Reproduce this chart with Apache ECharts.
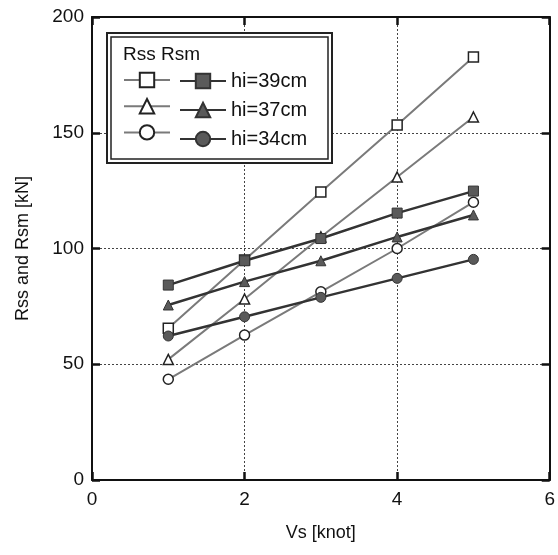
<!DOCTYPE html>
<html lang="en">
<head>
    <meta charset="UTF-8">
    <title>Rss and Rsm</title>
    <script src="https://cdn.jsdelivr.net/npm/echarts@6/dist/echarts.min.js"></script>
    <style>
        html, body { margin: 0; padding: 0; background: #fff; }
        #main { width: 558px; height: 555px; }
    </style>
</head>
<body>
<div id="main"></div>
<script>
    // 数据
    let vs = [1, 2, 3, 4, 5];
    let rss39 = [65.5, 95, 124.4, 153.3, 182.7];
    let rsm39 = [84.2, 94.7, 104.3, 115.3, 124.8];
    let rss37 = [52.1, 78.2, 105, 130.9, 156.8];
    let rsm37 = [75.6, 85.7, 94.7, 105, 114.5];
    let rss34 = [43.5, 62.6, 81.3, 100, 120];
    let rsm34 = [62.2, 70.5, 78.9, 87.1, 95.3];
    let xTicks = [0, 2, 4, 6];
    let yTicks = [0, 50, 100, 150, 200];

    let font = 'Liberation Sans, Arial, sans-serif';
    let pairs = (arr) => vs.map((x, i) => [x, arr[i]]);

    let rssLine = (name, data, symbol) => ({
        name: name, type: 'line', data: pairs(data),
        symbol: symbol, symbolSize: 10,
        lineStyle: {color: '#7a7a7a', width: 2},
        itemStyle: {color: '#fff', borderColor: '#222', borderWidth: 1.5},
        z: 3
    });
    let rsmLine = (name, data, symbol) => ({
        name: name, type: 'line', data: pairs(data),
        symbol: symbol, symbolSize: 10,
        lineStyle: {color: '#333', width: 2.5},
        itemStyle: {color: '#5a5a5a', borderColor: '#333', borderWidth: 1},
        z: 4
    });

    let labelMap = {'Rsm39': 'hi=39cm', 'Rsm37': 'hi=37cm', 'Rsm34': 'hi=34cm'};

    // 边框轴（上、右）
    let frameAxis = (pos, min, max, interval) => ({
        type: 'value', min: min, max: max, interval: interval, position: pos,
        axisLine: {show: true, onZero: false, lineStyle: {color: '#111', width: 2}},
        axisTick: {show: true, inside: true, length: 8, lineStyle: {color: '#111', width: 2.5}},
        axisLabel: {show: false}, splitLine: {show: false}
    });

    let myChart = echarts.init(document.getElementById('main'));
    let option = {
        animation: false,
        grid: {left: 92, right: 7, top: 17, bottom: 75},
        graphic: [
            {type: 'rect', shape: {x: 107, y: 33, width: 225, height: 130},
             style: {fill: '#fff', stroke: '#222', lineWidth: 2}, z: 10},
            {type: 'rect', shape: {x: 111, y: 37, width: 217, height: 122},
             style: {fill: 'none', stroke: '#222', lineWidth: 1.5}, z: 10},
            {type: 'text', left: 123, top: 45, z: 11,
             style: {text: 'Rss Rsm', font: '19px ' + font, fill: '#111'}}
        ],
        legend: [
            {
                data: ['Rss39', 'Rss37', 'Rss34'],
                orient: 'vertical', left: 118, top: 66, itemGap: 9,
                itemWidth: 46, itemHeight: 18,
                formatter: () => '', z: 12,
                textStyle: {fontSize: 1}
            },
            {
                data: ['Rsm39', 'Rsm37', 'Rsm34'],
                orient: 'vertical', left: 174, top: 66, itemGap: 9,
                itemWidth: 46, itemHeight: 18, z: 12,
                formatter: (n) => labelMap[n],
                textStyle: {fontSize: 20, fontFamily: font, color: '#111', padding: [0, 0, 0, 0]}
            }
        ],
        xAxis: [
            {
                type: 'value', min: 0, max: 6, interval: 2,
                name: 'Vs [knot]', nameLocation: 'middle', nameGap: 44,
                nameTextStyle: {fontSize: 18, fontFamily: font, color: '#111'},
                axisLine: {onZero: false, lineStyle: {color: '#111', width: 2}},
                axisTick: {inside: true, length: 8, lineStyle: {color: '#111', width: 2.5}},
                axisLabel: {fontSize: 19, fontFamily: font, color: '#111', margin: 10},
                splitLine: {show: true, lineStyle: {color: '#444', type: [2, 2], width: 1}}
            },
            frameAxis('top', 0, 6, 2)
        ],
        yAxis: [
            {
                type: 'value', min: 0, max: 200, interval: 50,
                name: 'Rss and Rsm [kN]', nameLocation: 'middle', nameGap: 60,
                nameTextStyle: {fontSize: 18, fontFamily: font, color: '#111'},
                axisLine: {show: true, onZero: false, lineStyle: {color: '#111', width: 2}},
                axisTick: {show: true, inside: true, length: 8, lineStyle: {color: '#111', width: 2.5}},
                axisLabel: {fontSize: 19, fontFamily: font, color: '#111', margin: 8},
                splitLine: {show: true, lineStyle: {color: '#444', type: [2, 2], width: 1}}
            },
            frameAxis('right', 0, 200, 50)
        ],
        series: [
            rssLine('Rss39', rss39, 'rect'),
            rsmLine('Rsm39', rsm39, 'rect'),
            rssLine('Rss37', rss37, 'triangle'),
            rsmLine('Rsm37', rsm37, 'triangle'),
            rssLine('Rss34', rss34, 'circle'),
            rsmLine('Rsm34', rsm34, 'circle')
        ]
    };
    myChart.setOption(option);
</script>
</body>
</html>
